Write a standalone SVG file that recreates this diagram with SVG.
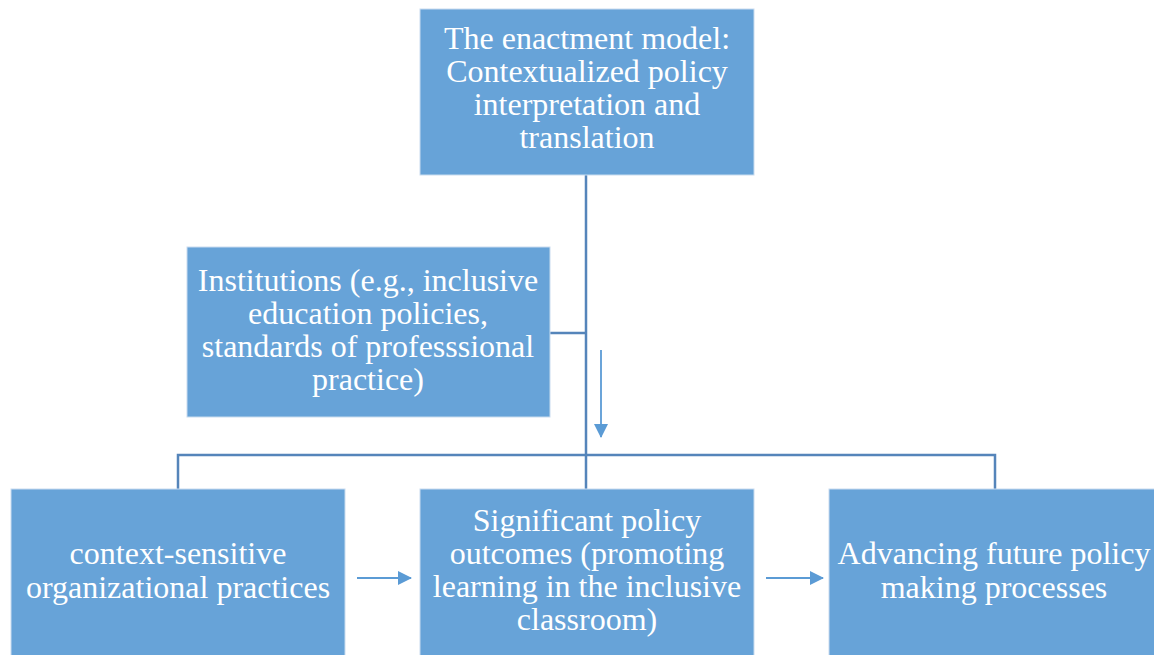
<svg xmlns="http://www.w3.org/2000/svg" width="1154" height="655" viewBox="0 0 1154 655">
<defs>
<style>
.box{fill:#67a3d8;stroke:#c9dcef;stroke-width:1}
.t{font-family:"Liberation Serif","Times New Roman",serif;font-size:32px;fill:#ffffff;text-anchor:middle}
.ln{fill:none;stroke:#5585ba;stroke-width:2.5}
.ar{fill:none;stroke:#5b9bd5;stroke-width:1.8}
</style>
<marker id="ah" markerWidth="8" markerHeight="8" refX="7" refY="4" orient="auto" markerUnits="userSpaceOnUse" viewBox="0 0 8 8">
<path d="M0,0 L8,4 L0,8 Z" fill="#5b9bd5"/>
</marker>
<marker id="ah2" markerWidth="14" markerHeight="14" refX="13" refY="7" orient="auto" markerUnits="userSpaceOnUse" viewBox="0 0 14 14">
<path d="M0,0 L14,7 L0,14 Z" fill="#5b9bd5"/>
</marker>
</defs>
<rect width="1154" height="655" fill="#ffffff"/>
<g id="connectors">
<path class="ln" d="M586,175 V489"/>
<path class="ln" d="M550,333 H586"/>
<path class="ln" d="M178,489 V455 H995 V489"/>
<path class="ar" d="M601,350 V437" marker-end="url(#ah2)"/>
<path class="ar" d="M357,578 H411" marker-end="url(#ah2)"/>
<path class="ar" d="M766,578 H823" marker-end="url(#ah2)"/>
</g>
<g id="node-enactment">
<rect class="box" x="420" y="9" width="334" height="166"/>
<text class="t" x="587" y="49">The enactment model:</text>
<text class="t" x="587" y="82">Contextualized policy</text>
<text class="t" x="587" y="115">interpretation and</text>
<text class="t" x="587" y="148">translation</text>
</g>
<g id="node-institutions">
<rect class="box" x="187" y="247" width="363" height="170"/>
<text class="t" x="368" y="291">Institutions (e.g., inclusive</text>
<text class="t" x="368" y="324">education policies,</text>
<text class="t" x="368" y="357">standards of professsional</text>
<text class="t" x="368" y="390">practice)</text>
</g>
<g id="node-practices">
<rect class="box" x="11" y="489" width="334" height="170"/>
<text class="t" x="178" y="564">context-sensitive</text>
<text class="t" x="178" y="598">organizational practices</text>
</g>
<g id="node-outcomes">
<rect class="box" x="420" y="489" width="334" height="170"/>
<text class="t" x="587" y="531">Significant policy</text>
<text class="t" x="587" y="564">outcomes (promoting</text>
<text class="t" x="587" y="597">learning in the inclusive</text>
<text class="t" x="587" y="630">classroom)</text>
</g>
<g id="node-advancing">
<rect class="box" x="829" y="489" width="334" height="170"/>
<text class="t" x="994" y="564">Advancing future policy</text>
<text class="t" x="994" y="598">making processes</text>
</g>
</svg>
